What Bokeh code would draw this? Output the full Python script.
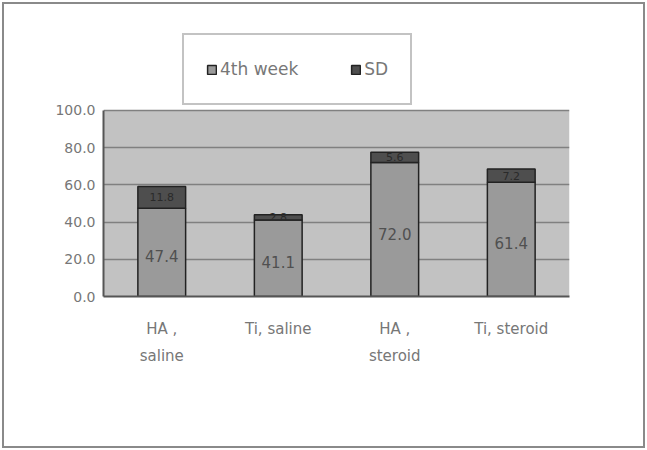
from bokeh.plotting import figure
from bokeh.models import (ColumnDataSource, FixedTicker, Legend, LegendItem,
                          NumeralTickFormatter, BoxAnnotation)
from bokeh.core.properties import value
from bokeh.embed import file_html
from bokeh.resources import INLINE

categories = ["HA ,\nsaline", "Ti, saline", "HA ,\nsteroid", "Ti, steroid"]
week4 = [47.4, 41.1, 72.0, 61.4]
sd = [11.8, 2.8, 5.6, 7.2]
week4_labels = ["47.4", "41.1", "72.0", "61.4"]
sd_labels = ["11.8", "2.8", "5.6", "7.2"]
y_ticks = [0, 20, 40, 60, 80, 100]

tops = [a + b for a, b in zip(week4, sd)]
src = ColumnDataSource(dict(
    cat=categories, week4=week4, sd=sd, top=tops,
    mid1=[w / 2 for w in week4],
    mid2=[w + s / 2 for w, s in zip(week4, sd)],
    lab1=week4_labels, lab2=sd_labels,
    zero=[0] * len(week4),
))

FONT = "DejaVu Sans"

# frame extends above the 0-100 plot area so that the legend fits inside it
p = figure(x_range=categories, y_range=(0, 143), width=643, height=446,
           output_backend="svg", toolbar_location=None,
           min_border_left=99, min_border_right=78,
           min_border_top=26, min_border_bottom=154)
p.margin = (2, 2, 2, 2)
p.styles = {"border": "2px solid #8a8a8a"}
p.background_fill_color = "white"
p.border_fill_color = "white"
p.outline_line_color = None

plot_area = BoxAnnotation(bottom=0, top=100, fill_color="#c2c2c2",
                          fill_alpha=1, line_color=None, level="image")
p.add_layout(plot_area)

r1 = p.vbar(x="cat", bottom="zero", top="week4", width=0.41, source=src,
            fill_color="#9a9a9a", line_color="#222222", line_width=1.5)
r2 = p.vbar(x="cat", bottom="week4", top="top", width=0.41, source=src,
            fill_color="#4e4e4e", line_color="#222222", line_width=1.5)

p.text(x="cat", y="mid1", text="lab1", source=src, text_align="center",
       text_baseline="middle", text_color="#505050", text_font_size="15px",
       text_font=value(FONT), y_offset=4)
p.text(x="cat", y="mid2", text="lab2", source=src, text_align="center",
       text_baseline="middle", text_color="#2a2a2a", text_font_size="11px",
       text_font=value(FONT))

p.xgrid.grid_line_color = None
p.ygrid.grid_line_color = "#808080"
p.ygrid.grid_line_width = 1.5
p.ygrid.ticker = FixedTicker(ticks=y_ticks[1:])

p.yaxis.ticker = FixedTicker(ticks=y_ticks)
p.yaxis.bounds = (0, 100)
p.yaxis.formatter = NumeralTickFormatter(format="0.0")
p.yaxis.axis_line_color = "#555555"
p.yaxis.axis_line_width = 2
p.yaxis.major_tick_line_color = None
p.yaxis.major_tick_out = 0
p.yaxis.minor_tick_line_color = None
p.yaxis.major_label_text_font = FONT
p.yaxis.major_label_text_font_size = "14px"
p.yaxis.major_label_text_color = "#777777"
p.yaxis.major_label_standoff = 8

p.xaxis.axis_line_color = "#555555"
p.xaxis.axis_line_width = 2
p.xaxis.major_tick_line_color = None
p.xaxis.major_tick_out = 0
p.xaxis.minor_tick_line_color = None
p.xaxis.major_label_text_font = FONT
p.xaxis.major_label_text_font_size = "15px"
p.xaxis.major_label_text_color = "#777777"
p.xaxis.major_label_text_line_height = 1.55
p.xaxis.major_label_standoff = 23

legend = Legend(items=[LegendItem(label="4th week", renderers=[r1]),
                       LegendItem(label="SD", renderers=[r2])],
                orientation="horizontal", location=(79, 191))
legend.border_line_color = "#888888"
legend.border_line_width = 2
legend.background_fill_color = "white"
legend.label_text_font = FONT
legend.label_text_font_size = "17px"
legend.label_text_color = "#777777"
legend.glyph_width = 11
legend.glyph_height = 11
legend.label_standoff = 3
legend.spacing = 52
legend.padding = 22
legend.margin = 0
legend.label_height = 24
p.add_layout(legend, "center")

open("out.html", "w").write(file_html(p, INLINE))
